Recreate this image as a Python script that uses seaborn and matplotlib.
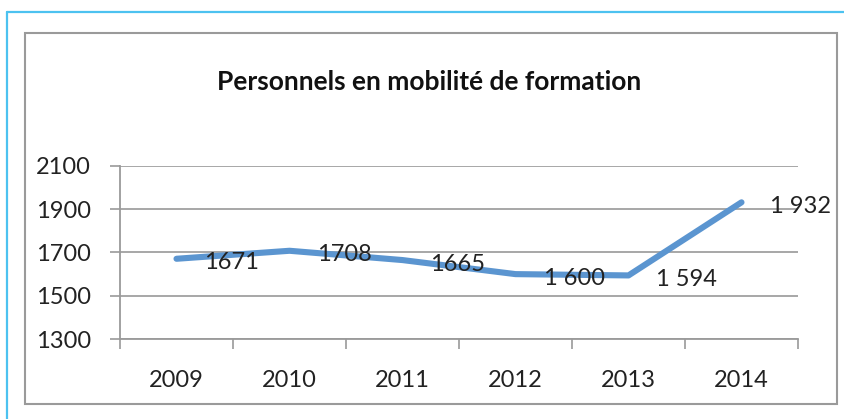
import matplotlib
matplotlib.use("Agg")
import matplotlib.pyplot as plt
import seaborn as sns
import pandas as pd
from matplotlib.lines import Line2D
from matplotlib.patches import Rectangle

years = ["2009", "2010", "2011", "2012", "2013", "2014"]
values = [1671, 1708, 1665, 1600, 1594, 1932]
labels = ["1671", "1708", "1665", "1 600", "1 594", "1 932"]
yticks = [1300, 1500, 1700, 1900, 2100]
title = "Personnels en mobilité de formation"

sns.set_theme(style="white")
plt.rcParams["font.family"] = ["Lato", "DejaVu Sans"]

W, H = 844, 419
fig = plt.figure(figsize=(W / 100, H / 100), dpi=100)

def fx(px):
    return px / W

def fy(py):
    return 1 - py / H

# outer light-blue frame (top and left visible)
fig.add_artist(Line2D([fx(7), fx(W)], [fy(12), fy(12)], color="#4cc2f0", lw=1.6))
fig.add_artist(Line2D([fx(7), fx(7)], [fy(12), fy(H)], color="#4cc2f0", lw=1.6))
# gray chart frame
fig.add_artist(Rectangle((fx(25), fy(404)), fx(837) - fx(25), fy(33) - fy(404),
                         fill=False, ec="#9a9a9a", lw=1.5))

ax = fig.add_axes([fx(120), fy(339), fx(798) - fx(120), fy(166) - fy(339)])
df = pd.DataFrame({"year": years, "value": values})
sns.lineplot(data=df, x="year", y="value", ax=ax, color="#5b95d0", lw=4.4,
             solid_capstyle="round", solid_joinstyle="round")

ax.set_xlim(-0.5, len(years) - 0.5)
ax.set_ylim(yticks[0], yticks[-1])
ax.set_yticks(yticks)
ax.set_yticklabels([str(t) for t in yticks], fontsize=17, color="#222222")
ax.set_xticks(range(len(years)))
ax.set_xticklabels(years, fontsize=17, color="#222222")
ax.set_xticks([i - 0.5 for i in range(len(years) + 1)], minor=True)
ax.tick_params(axis="x", which="major", length=0, pad=22)
ax.tick_params(axis="x", which="minor", length=7, width=1.2, color="#9a9a9a", direction="out", bottom=True)
ax.tick_params(axis="y", which="major", length=7, width=1.2, color="#9a9a9a", direction="out", left=True, pad=14)
ax.yaxis.grid(True, color="#a0a0a0", lw=1.3)
ax.xaxis.grid(False)
ax.set_xlabel("")
ax.set_ylabel("")
for s in ["top", "right"]:
    ax.spines[s].set_visible(False)
for s in ["left", "bottom"]:
    ax.spines[s].set_color("#9a9a9a")
    ax.spines[s].set_linewidth(1.3)
ax.patch.set_alpha(0)

for i, (v, lab) in enumerate(zip(values, labels)):
    ax.annotate(lab, (i, v), xytext=(28, -4), textcoords="offset pixels",
                ha="left", va="center", fontsize=17, color="#222222")

fig.text(fx(429), fy(82), title, ha="center", va="center", fontsize=19,
         fontweight="bold", color="#111111")

fig.savefig("out.png", dpi=100)
